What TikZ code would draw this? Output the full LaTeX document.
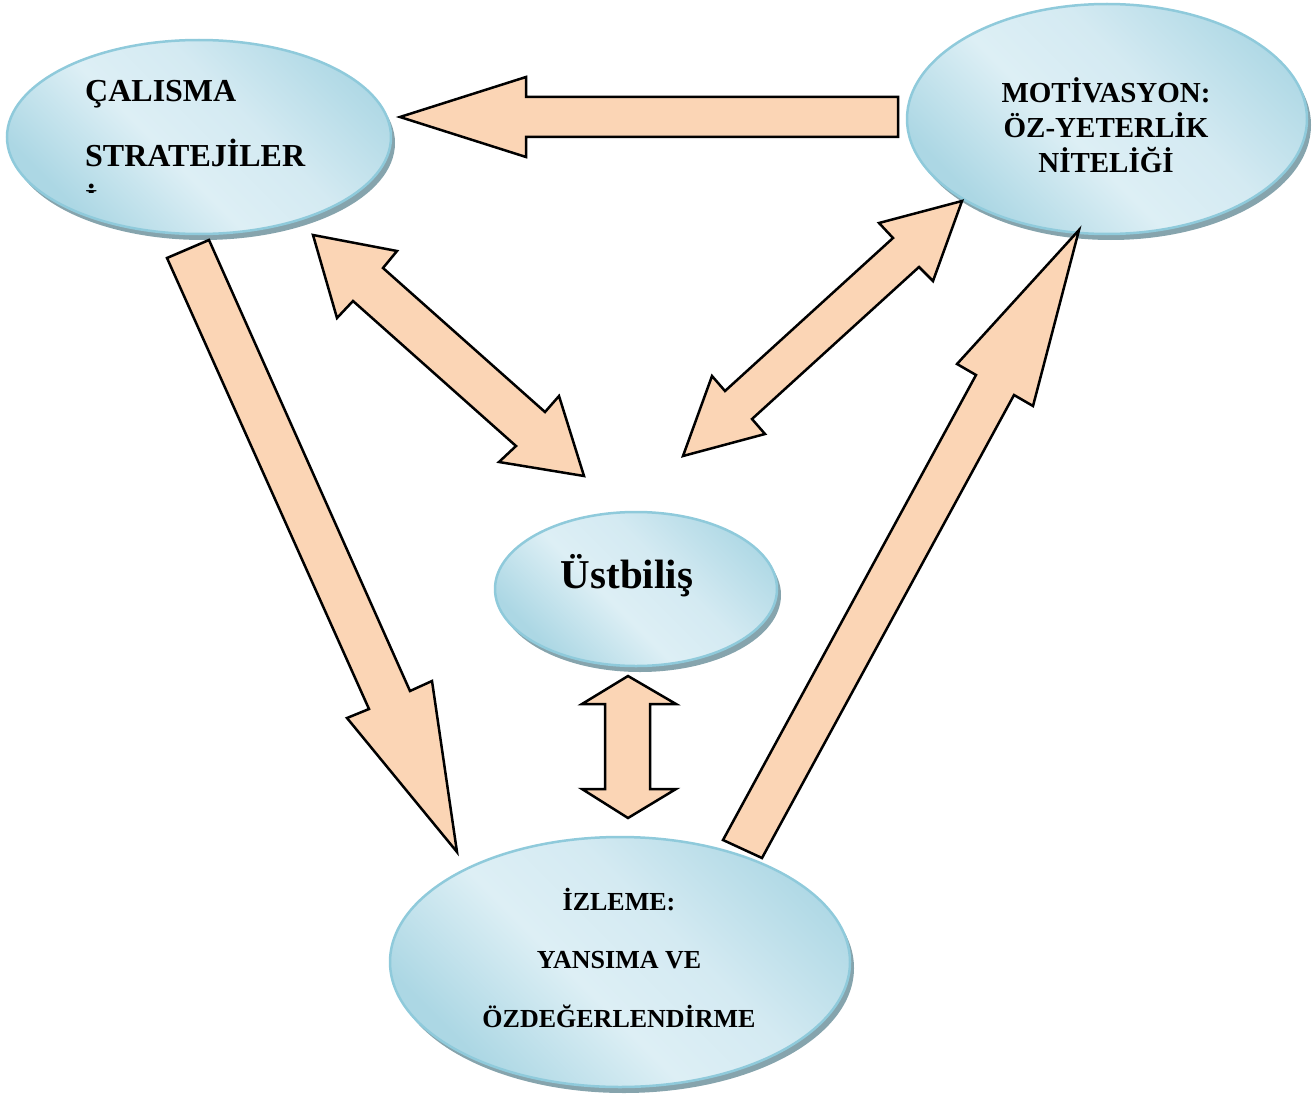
\documentclass[tikz,border=0pt]{standalone}
\usepackage{fontspec}
\setmainfont{Liberation Serif}
\usetikzlibrary{shapes.geometric,shadows}
\definecolor{ellD}{HTML}{ACD7E4}
\definecolor{ellL}{HTML}{DDEFF5}
\definecolor{ellM}{HTML}{D4EAF2}
\definecolor{ellB}{HTML}{8FCADB}
\definecolor{shd}{HTML}{86A4AD}
\definecolor{peach}{HTML}{FBD5B5}
\pgfdeclarehorizontalshading{ellsh}{100bp}{color(0bp)=(ellD); color(26bp)=(ellD); color(44bp)=(ellL); color(58bp)=(ellM); color(78bp)=(ellD); color(100bp)=(ellD)}
\begin{document}
\begin{tikzpicture}[x=1pt,y=-1pt,
  bub/.style={ellipse, draw=ellB, line width=2.5pt, shade, shading=ellsh, shading angle=45,
              general shadow={shadow xshift=4pt, shadow yshift=-6pt, fill=shd}},
  blk/.style={draw=black, line width=2.5pt, fill=peach, line join=miter},
  lbl/.style={font=\bfseries\fontsize{#1}{#1}\selectfont, inner sep=0pt, text=black},
]
\useasboundingbox (0,0) rectangle (1314,1097);

% ellipses
\node[bub, minimum width=384pt, minimum height=194pt] (cal) at (199,137) {};
\node[bub, minimum width=400pt, minimum height=230pt] (mot) at (1107,119) {};
\node[bub, minimum width=460pt, minimum height=250pt] (izl) at (620,962) {};
\node[bub, minimum width=282pt, minimum height=154pt] (ust) at (636,589) {};

% texts
\node[lbl=32, anchor=base west] (cal1) at (85,102) {ÇALISMA};
\node[lbl=32, anchor=base west] (cal2) at (85,166) {STRATEJİLER};
\begin{scope}
  \clip (78,170) rectangle (120,192.5);
  \node[lbl=32, anchor=base west] (cal3) at (85,211) {İ};
\end{scope}

\node[lbl=29, anchor=base] (mot1) at (1106,103) {MOTİVASYON:};
\node[lbl=29, anchor=base] (mot2) at (1106,138) {ÖZ-YETERLİK};
\node[lbl=29, anchor=base] (mot3) at (1106,172) {NİTELİĞİ};

\node[lbl=41, anchor=base] (ust1) at (627,588) {Üstbiliş};

\node[lbl=26, anchor=base] (izl1) at (619,910) {İZLEME:};
\node[lbl=26, anchor=base] (izl2) at (619,968) {YANSIMA VE};
\node[lbl=26, anchor=base] (izl3) at (619,1027) {ÖZDEĞERLENDİRME};

% block arrows
% motivasyon -> calisma
\draw[blk] (400,117) -- (526,77) -- (526,97) -- (898,97) -- (898,137) -- (526,137) -- (526,157) -- cycle;
% calisma -> izleme
\draw[blk] (167,258) -- (209,240) -- (410,691) -- (432,681) -- (457,852) -- (347,718) -- (369,709) -- cycle;
% calisma <-> ustbilis
\draw[blk] (313,235) -- (397,251) -- (383,268) -- (545,412) -- (559,396) -- (584,476)
  -- (499,462) -- (516,446) -- (353,301) -- (337,318) -- cycle;
% ustbilis <-> motivasyon
\draw[blk] (962,201) -- (933,281) -- (919,267) -- (752,419) -- (765,434) -- (683,456)
  -- (712,376) -- (725,391) -- (893,238) -- (879,223) -- cycle;
% izleme -> motivasyon
\draw[blk] (1079,230) -- (1033,406) -- (1014,395) -- (762,858) -- (723,840) -- (976,375) -- (957,364) -- cycle;
% ustbilis <-> izleme
\draw[blk] (628,676) -- (676,704) -- (650,704) -- (650,789) -- (676,789) -- (628,818)
  -- (582,789) -- (605,789) -- (605,704) -- (582,704) -- cycle;
\end{tikzpicture}
\end{document}
